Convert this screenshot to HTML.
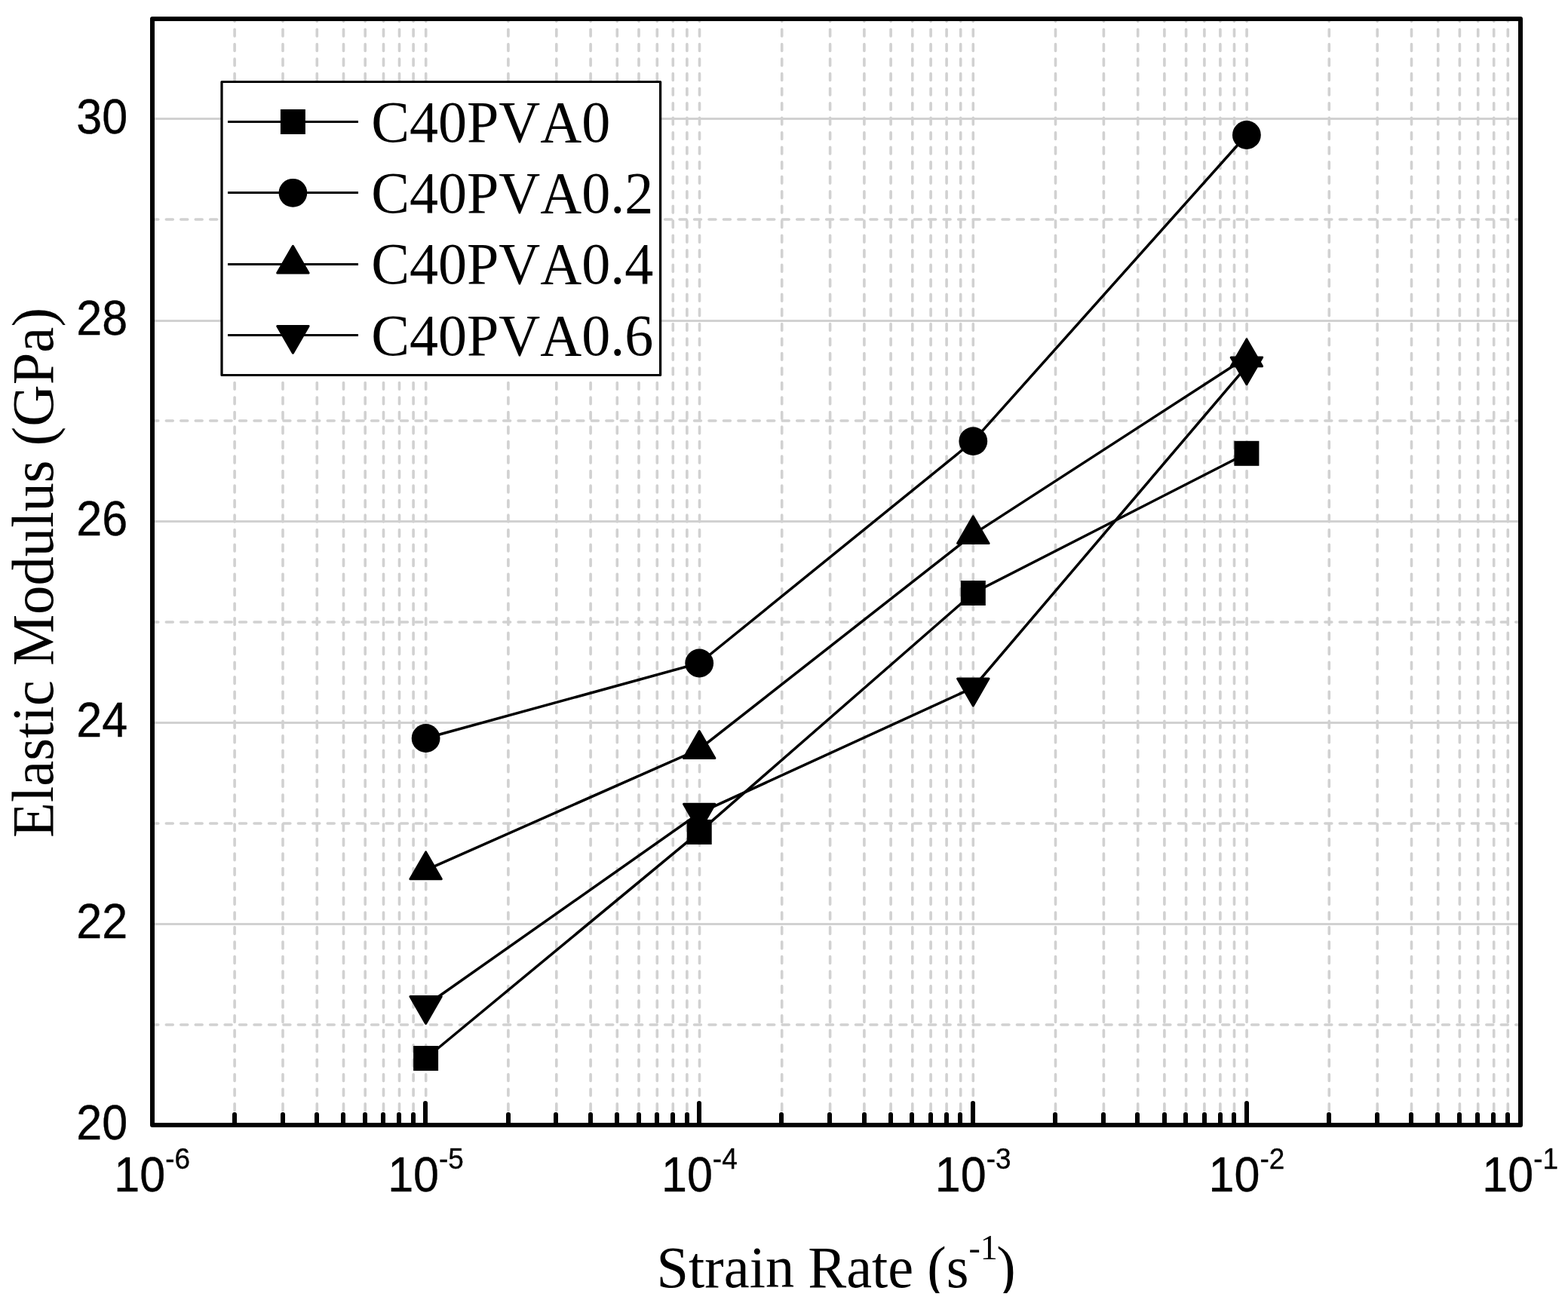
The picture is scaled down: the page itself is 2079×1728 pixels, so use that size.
<!DOCTYPE html>
<html lang="en"><head><meta charset="utf-8"><title>Elastic Modulus vs Strain Rate</title><style>
html,body{margin:0;padding:0;background:#fff;overflow:hidden;}
svg{display:block;}
text{font-kerning:none;fill:#000;}
.grid line{stroke:#d1d1d1;stroke-width:3;fill:none;}
.grid .d{stroke-width:3.6;stroke-dasharray:8.8 10.716;stroke-linecap:round;}
.grid .h{stroke-dasharray:8.9 10.55;}
.data{fill:#000;}
.ln{fill:none;stroke:#000;stroke-width:3.5;}
.ll{fill:none;stroke:#000;stroke-width:3;}
.tri{stroke:#000;stroke-width:3;stroke-linejoin:round;}
.ticks line{stroke:#000;stroke-width:6;stroke-linecap:round;}
.frame{fill:none;stroke:#000;stroke-width:6;stroke-linejoin:round;}
.lbox{fill:#fff;stroke:#000;stroke-width:3.2;stroke-linejoin:round;}
.tk{font-family:"Liberation Sans",Arial,sans-serif;font-size:62px;stroke:#000;stroke-width:0.35px;}
.sup{font-size:37.5px;}
.ti{font-family:"Liberation Serif","Times New Roman",serif;font-size:76.4px;}
.tsup{font-size:46px;}
.xt{word-spacing:-1px;}
.yt{font-size:76.7px;}
.lg{font-family:"Liberation Serif","Times New Roman",serif;font-size:76.1px;}
</style></head><body>
<svg width="2079" height="1728" viewBox="0 0 2079 1728">
<rect x="0" y="0" width="2079" height="1728" fill="#fff"/>
<g class="grid">
<line class="d" x1="311.1" y1="1492.1" x2="311.1" y2="27"/>
<line class="d" x1="375.0" y1="1492.1" x2="375.0" y2="27"/>
<line class="d" x1="420.3" y1="1492.1" x2="420.3" y2="27"/>
<line class="d" x1="455.5" y1="1492.1" x2="455.5" y2="27"/>
<line class="d" x1="484.2" y1="1492.1" x2="484.2" y2="27"/>
<line class="d" x1="508.5" y1="1492.1" x2="508.5" y2="27"/>
<line class="d" x1="529.5" y1="1492.1" x2="529.5" y2="27"/>
<line class="d" x1="548.1" y1="1492.1" x2="548.1" y2="27"/>
<line class="d" x1="564.7" y1="1492.1" x2="564.7" y2="27"/>
<line class="d" x1="673.9" y1="1492.1" x2="673.9" y2="27"/>
<line class="d" x1="737.8" y1="1492.1" x2="737.8" y2="27"/>
<line class="d" x1="783.1" y1="1492.1" x2="783.1" y2="27"/>
<line class="d" x1="818.3" y1="1492.1" x2="818.3" y2="27"/>
<line class="d" x1="847.0" y1="1492.1" x2="847.0" y2="27"/>
<line class="d" x1="871.3" y1="1492.1" x2="871.3" y2="27"/>
<line class="d" x1="892.3" y1="1492.1" x2="892.3" y2="27"/>
<line class="d" x1="910.9" y1="1492.1" x2="910.9" y2="27"/>
<line class="d" x1="927.5" y1="1492.1" x2="927.5" y2="27"/>
<line class="d" x1="1036.7" y1="1492.1" x2="1036.7" y2="27"/>
<line class="d" x1="1100.6" y1="1492.1" x2="1100.6" y2="27"/>
<line class="d" x1="1145.9" y1="1492.1" x2="1145.9" y2="27"/>
<line class="d" x1="1181.1" y1="1492.1" x2="1181.1" y2="27"/>
<line class="d" x1="1209.8" y1="1492.1" x2="1209.8" y2="27"/>
<line class="d" x1="1234.1" y1="1492.1" x2="1234.1" y2="27"/>
<line class="d" x1="1255.1" y1="1492.1" x2="1255.1" y2="27"/>
<line class="d" x1="1273.7" y1="1492.1" x2="1273.7" y2="27"/>
<line class="d" x1="1290.3" y1="1492.1" x2="1290.3" y2="27"/>
<line class="d" x1="1399.5" y1="1492.1" x2="1399.5" y2="27"/>
<line class="d" x1="1463.4" y1="1492.1" x2="1463.4" y2="27"/>
<line class="d" x1="1508.7" y1="1492.1" x2="1508.7" y2="27"/>
<line class="d" x1="1543.9" y1="1492.1" x2="1543.9" y2="27"/>
<line class="d" x1="1572.6" y1="1492.1" x2="1572.6" y2="27"/>
<line class="d" x1="1596.9" y1="1492.1" x2="1596.9" y2="27"/>
<line class="d" x1="1617.9" y1="1492.1" x2="1617.9" y2="27"/>
<line class="d" x1="1636.5" y1="1492.1" x2="1636.5" y2="27"/>
<line class="d" x1="1653.1" y1="1492.1" x2="1653.1" y2="27"/>
<line class="d" x1="1762.3" y1="1492.1" x2="1762.3" y2="27"/>
<line class="d" x1="1826.2" y1="1492.1" x2="1826.2" y2="27"/>
<line class="d" x1="1871.5" y1="1492.1" x2="1871.5" y2="27"/>
<line class="d" x1="1906.7" y1="1492.1" x2="1906.7" y2="27"/>
<line class="d" x1="1935.4" y1="1492.1" x2="1935.4" y2="27"/>
<line class="d" x1="1959.7" y1="1492.1" x2="1959.7" y2="27"/>
<line class="d" x1="1980.7" y1="1492.1" x2="1980.7" y2="27"/>
<line class="d" x1="1999.3" y1="1492.1" x2="1999.3" y2="27"/>
<line class="d h" x1="200.9" y1="1359.0" x2="2014.0" y2="1359.0"/>
<line x1="202.0" y1="1225.5" x2="2016.0" y2="1225.5"/>
<line class="d h" x1="200.9" y1="1092.0" x2="2014.0" y2="1092.0"/>
<line x1="202.0" y1="958.5" x2="2016.0" y2="958.5"/>
<line class="d h" x1="200.9" y1="825.0" x2="2014.0" y2="825.0"/>
<line x1="202.0" y1="691.5" x2="2016.0" y2="691.5"/>
<line class="d h" x1="200.9" y1="558.0" x2="2014.0" y2="558.0"/>
<line x1="202.0" y1="425.5" x2="2016.0" y2="425.5"/>
<line class="d h" x1="200.9" y1="291.0" x2="2014.0" y2="291.0"/>
<line x1="202.0" y1="157.5" x2="2016.0" y2="157.5"/>
</g>
<g class="data">
<polyline class="ln" points="564.6,1403.5 927.2,1103.4 1290.3,786.5 1652.9,601.3"/>
<rect x="548.1" y="1387.0" width="33" height="33"/>
<rect x="910.7" y="1086.9" width="33" height="33"/>
<rect x="1273.8" y="770.0" width="33" height="33"/>
<rect x="1636.4" y="584.8" width="33" height="33"/>
<polyline class="ln" points="564.6,979.0 927.2,879.5 1290.3,585.1 1652.9,179.0"/>
<circle cx="564.6" cy="979.0" r="18.9"/>
<circle cx="927.2" cy="879.5" r="18.9"/>
<circle cx="1290.3" cy="585.1" r="18.9"/>
<circle cx="1652.9" cy="179.0" r="18.9"/>
<polyline class="ln" points="564.6,1153.8 927.2,993.5 1290.3,708.6 1652.9,473.8"/>
<polygon class="tri" points="564.6,1129.9 585.3,1165.8 543.9,1165.8"/>
<polygon class="tri" points="927.2,969.6 947.9,1005.5 906.5,1005.5"/>
<polygon class="tri" points="1290.3,684.7 1311.0,720.6 1269.6,720.6"/>
<polygon class="tri" points="1652.9,449.9 1673.6,485.8 1632.2,485.8"/>
<polyline class="ln" points="564.6,1333.5 927.2,1078.3 1290.3,912.0 1652.9,485.8"/>
<polygon class="tri" points="564.6,1357.4 585.3,1321.5 543.9,1321.5"/>
<polygon class="tri" points="927.2,1102.2 947.9,1066.3 906.5,1066.3"/>
<polygon class="tri" points="1290.3,935.9 1311.0,900.0 1269.6,900.0"/>
<polygon class="tri" points="1652.9,509.7 1673.6,473.9 1632.2,473.9"/>
</g>
<g class="ticks">
<line x1="311.0" y1="1490" x2="311.0" y2="1478.0" />
<line x1="375.0" y1="1490" x2="375.0" y2="1478.0" />
<line x1="420.0" y1="1490" x2="420.0" y2="1478.0" />
<line x1="455.0" y1="1490" x2="455.0" y2="1478.0" />
<line x1="484.0" y1="1490" x2="484.0" y2="1478.0" />
<line x1="508.0" y1="1490" x2="508.0" y2="1478.0" />
<line x1="529.0" y1="1490" x2="529.0" y2="1478.0" />
<line x1="548.0" y1="1490" x2="548.0" y2="1478.0" />
<line x1="564.0" y1="1490" x2="564.0" y2="1463.0" />
<line x1="674.0" y1="1490" x2="674.0" y2="1478.0" />
<line x1="737.0" y1="1490" x2="737.0" y2="1478.0" />
<line x1="783.0" y1="1490" x2="783.0" y2="1478.0" />
<line x1="818.0" y1="1490" x2="818.0" y2="1478.0" />
<line x1="847.0" y1="1490" x2="847.0" y2="1478.0" />
<line x1="871.0" y1="1490" x2="871.0" y2="1478.0" />
<line x1="892.0" y1="1490" x2="892.0" y2="1478.0" />
<line x1="911.0" y1="1490" x2="911.0" y2="1478.0" />
<line x1="927.0" y1="1490" x2="927.0" y2="1463.0" />
<line x1="1036.0" y1="1490" x2="1036.0" y2="1478.0" />
<line x1="1100.0" y1="1490" x2="1100.0" y2="1478.0" />
<line x1="1146.0" y1="1490" x2="1146.0" y2="1478.0" />
<line x1="1181.0" y1="1490" x2="1181.0" y2="1478.0" />
<line x1="1209.0" y1="1490" x2="1209.0" y2="1478.0" />
<line x1="1234.0" y1="1490" x2="1234.0" y2="1478.0" />
<line x1="1255.0" y1="1490" x2="1255.0" y2="1478.0" />
<line x1="1273.0" y1="1490" x2="1273.0" y2="1478.0" />
<line x1="1290.0" y1="1490" x2="1290.0" y2="1463.0" />
<line x1="1399.0" y1="1490" x2="1399.0" y2="1478.0" />
<line x1="1463.0" y1="1490" x2="1463.0" y2="1478.0" />
<line x1="1508.0" y1="1490" x2="1508.0" y2="1478.0" />
<line x1="1544.0" y1="1490" x2="1544.0" y2="1478.0" />
<line x1="1572.0" y1="1490" x2="1572.0" y2="1478.0" />
<line x1="1597.0" y1="1490" x2="1597.0" y2="1478.0" />
<line x1="1618.0" y1="1490" x2="1618.0" y2="1478.0" />
<line x1="1636.0" y1="1490" x2="1636.0" y2="1478.0" />
<line x1="1653.0" y1="1490" x2="1653.0" y2="1463.0" />
<line x1="1762.0" y1="1490" x2="1762.0" y2="1478.0" />
<line x1="1826.0" y1="1490" x2="1826.0" y2="1478.0" />
<line x1="1871.0" y1="1490" x2="1871.0" y2="1478.0" />
<line x1="1906.0" y1="1490" x2="1906.0" y2="1478.0" />
<line x1="1935.0" y1="1490" x2="1935.0" y2="1478.0" />
<line x1="1959.0" y1="1490" x2="1959.0" y2="1478.0" />
<line x1="1980.0" y1="1490" x2="1980.0" y2="1478.0" />
<line x1="1999.0" y1="1490" x2="1999.0" y2="1478.0" />
</g>
<rect class="frame" x="202.0" y="25.0" width="1814.0" height="1467.0"/>
<rect class="lbox" x="294" y="108.5" width="581.6" height="389"/>
<g class="data">
<line class="ll" x1="302" y1="161.5" x2="475" y2="161.5"/>
<rect x="371.9" y="145.0" width="33" height="33"/>
<text class="lg" transform="translate(492.2,187.7) scale(1,1.02)">C40PVA0</text>
<line class="ll" x1="302" y1="255.5" x2="475" y2="255.5"/>
<circle cx="388.4" cy="255.8" r="18.9"/>
<text class="lg" transform="translate(492.2,282.0) scale(1,1.02)">C40PVA0.2</text>
<line class="ll" x1="302" y1="350.5" x2="475" y2="350.5"/>
<polygon class="tri" points="388.4,326.2 409.1,362.1 367.7,362.1"/>
<text class="lg" transform="translate(492.2,376.3) scale(1,1.02)">C40PVA0.4</text>
<line class="ll" x1="302" y1="444.5" x2="475" y2="444.5"/>
<polygon class="tri" points="388.4,468.3 409.1,432.4 367.7,432.4"/>
<text class="lg" transform="translate(492.2,470.6) scale(1,1.02)">C40PVA0.6</text>
</g>
<text class="tk" text-anchor="end" transform="translate(169.2,1511.0) scale(0.985,1.045)">20</text>
<text class="tk" text-anchor="end" transform="translate(169.2,1244.0) scale(0.985,1.045)">22</text>
<text class="tk" text-anchor="end" transform="translate(169.2,977.0) scale(0.985,1.045)">24</text>
<text class="tk" text-anchor="end" transform="translate(169.2,710.0) scale(0.985,1.045)">26</text>
<text class="tk" text-anchor="end" transform="translate(169.2,444.0) scale(0.985,1.045)">28</text>
<text class="tk" text-anchor="end" transform="translate(169.2,177.0) scale(0.985,1.045)">30</text>
<text class="tk" text-anchor="middle" transform="translate(201.7,1580) scale(0.985,1.045)">10<tspan class="sup" dy="-28.8">-6</tspan></text>
<text class="tk" text-anchor="middle" transform="translate(564.5,1580) scale(0.985,1.045)">10<tspan class="sup" dy="-28.8">-5</tspan></text>
<text class="tk" text-anchor="middle" transform="translate(927.3,1580) scale(0.985,1.045)">10<tspan class="sup" dy="-28.8">-4</tspan></text>
<text class="tk" text-anchor="middle" transform="translate(1290.1,1580) scale(0.985,1.045)">10<tspan class="sup" dy="-28.8">-3</tspan></text>
<text class="tk" text-anchor="middle" transform="translate(1652.9,1580) scale(0.985,1.045)">10<tspan class="sup" dy="-28.8">-2</tspan></text>
<text class="tk" text-anchor="middle" transform="translate(2015.7,1580) scale(0.985,1.045)">10<tspan class="sup" dy="-28.8">-1</tspan></text>
<clipPath id="xc"><rect x="800" y="1638.8" width="600" height="76.2"/></clipPath>
<g clip-path="url(#xc)"><text class="ti xt" transform="translate(870.6,1707) scale(1,1.015)">Strain Rate (s<tspan class="tsup" dy="-36.2">-1</tspan><tspan dy="36.2" dx="-1.5">)</tspan></text></g>
<text class="ti yt" text-anchor="middle" transform="translate(69.7,759.5) rotate(-90) scale(1,1.015)">Elastic Modulus (GPa)</text>
</svg>
</body></html>
